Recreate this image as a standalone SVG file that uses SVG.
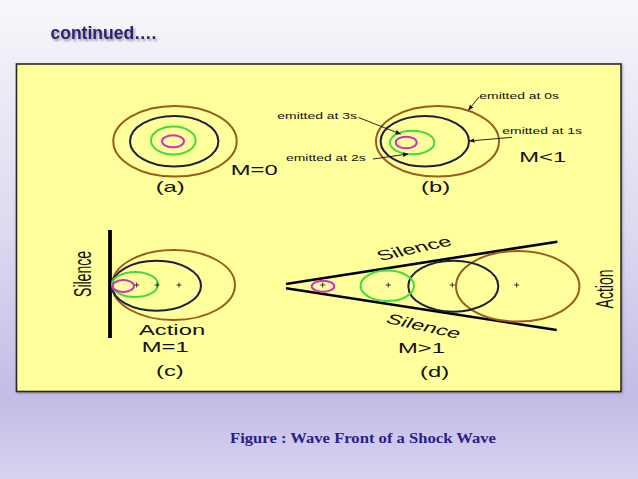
<svg xmlns="http://www.w3.org/2000/svg" width="638" height="479" viewBox="0 0 638 479">
<defs>
<linearGradient id="bg" x1="0" y1="0" x2="0" y2="1">
<stop offset="0" stop-color="#f8f8fb"/>
<stop offset="0.15" stop-color="#eeedf6"/>
<stop offset="0.5" stop-color="#dcd8f0"/>
<stop offset="0.83" stop-color="#c3bce6"/>
<stop offset="1" stop-color="#d8d4ef"/>
</linearGradient>
<filter id="sh" x="-10%" y="-30%" width="130%" height="180%">
<feDropShadow dx="1.5" dy="2" stdDeviation="1" flood-color="#555" flood-opacity="0.6"/>
</filter>
<filter id="boxsh" x="-5%" y="-5%" width="110%" height="110%">
<feDropShadow dx="1" dy="1" stdDeviation="1.2" flood-color="#444" flood-opacity="0.45"/>
</filter>
<marker id="arr" markerWidth="6" markerHeight="6" refX="5" refY="3" orient="auto" markerUnits="userSpaceOnUse">
<path d="M0,0.8 L5.5,3 L0,5.2 Z" fill="#111"/>
</marker>
<path id="plus" d="M-2.5,0 H2.5 M0,-2.5 V2.5" stroke="#222" stroke-width="0.9"/>
</defs>
<style>
.t{font-family:"Liberation Sans",Arial,sans-serif;fill:#111;}
.lbl{font-size:14px;}
.sm{font-size:8.2px;}
.w{fill:none;stroke-width:2;}
.br{stroke:#9b5a1e;}
.bk{stroke:#1c1f3c;}
.gr{stroke:#3fdc3a;}
.mg{stroke:#d22fc6;}
.lead{stroke:#111;stroke-width:0.9;fill:none;}
.thick{stroke:#000;fill:none;}
</style>
<rect x="0" y="0" width="638" height="479" fill="url(#bg)"/>
<text x="50.5" y="39" font-family="Liberation Sans,Arial,sans-serif" font-weight="bold" font-size="17.5" fill="#2b2377" filter="url(#sh)">continued….</text>
<rect x="16.5" y="64" width="604.5" height="327.5" fill="#ffff9c" stroke="#2a2a2a" stroke-width="1.6" filter="url(#boxsh)"/>

<g id="panel-a">
<ellipse cx="175" cy="141.3" rx="61.7" ry="35.3" class="w br"/>
<ellipse cx="174.2" cy="141.3" rx="44.2" ry="25.3" class="w bk"/>
<ellipse cx="173.3" cy="140.5" rx="22.3" ry="14" class="w gr"/>
<ellipse cx="173" cy="141.3" rx="11" ry="6" class="w mg"/>
<text class="t lbl" transform="translate(230.7,175) scale(1.7,1)">M=0</text>
<text class="t lbl" transform="translate(155.7,191.7) scale(1.7,1)">(a)</text>
</g>

<g id="panel-b">
<ellipse cx="437.5" cy="141.3" rx="61.5" ry="35.3" class="w br"/>
<ellipse cx="424.8" cy="141.3" rx="44.2" ry="25.3" class="w bk"/>
<ellipse cx="412.2" cy="142.5" rx="22.2" ry="11.8" class="w gr"/>
<ellipse cx="406.2" cy="142.5" rx="10.5" ry="5.8" class="w mg"/>
<text class="t sm" transform="translate(479.3,99.3) scale(1.7,1)">emitted at 0s</text>
<text class="t sm" transform="translate(277.3,119.3) scale(1.7,1)">emitted at 3s</text>
<text class="t sm" transform="translate(502.3,134) scale(1.7,1)">emitted at 1s</text>
<text class="t sm" transform="translate(286,160.7) scale(1.7,1)">emitted at 2s</text>
<text class="t lbl" transform="translate(519.3,161.7) scale(1.7,1)">M&lt;1</text>
<text class="t lbl" transform="translate(421,191.7) scale(1.7,1)">(b)</text>
</g>

<g id="panel-c">
<line x1="110" y1="230" x2="110" y2="338" class="thick" stroke-width="3.8"/>
<ellipse cx="173.5" cy="285" rx="61.5" ry="35" class="w br"/>
<ellipse cx="156.5" cy="285.7" rx="44.5" ry="25" class="w bk"/>
<ellipse cx="135" cy="284.5" rx="23" ry="12.5" class="w gr"/>
<ellipse cx="123.3" cy="286" rx="10.7" ry="6" class="w mg"/>
<use href="#plus" x="136.7" y="285"/>
<use href="#plus" x="157" y="285"/>
<use href="#plus" x="179" y="285"/>
<text class="t lbl" text-anchor="middle" transform="translate(90.7,274) scale(1.7,1) rotate(-90)">Silence</text>
<text class="t lbl" transform="translate(139,335) scale(1.7,1)">Action</text>
<text class="t lbl" transform="translate(141.7,351.7) scale(1.7,1)">M=1</text>
<text class="t lbl" transform="translate(156,376) scale(1.7,1)">(c)</text>
</g>

<g id="panel-d">
<line x1="286" y1="284" x2="557.3" y2="241.7" class="thick" stroke-width="2.6"/>
<line x1="286" y1="288.3" x2="556.7" y2="330" class="thick" stroke-width="2.6"/>
<ellipse cx="517.7" cy="286.3" rx="61.7" ry="35.3" class="w br"/>
<ellipse cx="453.3" cy="286.2" rx="45" ry="25.5" class="w bk"/>
<ellipse cx="387.3" cy="285.8" rx="26.7" ry="15.2" class="w gr"/>
<ellipse cx="323" cy="286.3" rx="11.3" ry="5.5" class="w mg"/>
<use href="#plus" x="322.7" y="285"/>
<use href="#plus" x="388.3" y="285"/>
<use href="#plus" x="452.3" y="285"/>
<use href="#plus" x="516.7" y="285"/>
<text class="t lbl" text-anchor="middle" transform="translate(417,253) scale(1.7,1) rotate(-20.7)">Silence</text>
<text class="t lbl" text-anchor="middle" transform="translate(421,330.7) scale(1.7,1) rotate(20.7)">Silence</text>
<text class="t lbl" text-anchor="middle" transform="translate(612.5,289) scale(1.7,1) rotate(-90)">Action</text>
<text class="t lbl" transform="translate(398,352.7) scale(1.7,1)">M&gt;1</text>
<text class="t lbl" transform="translate(420,376.7) scale(1.7,1)">(d)</text>
</g>

<g id="connectors">
<line x1="479" y1="97" x2="468.5" y2="110" class="lead" marker-end="url(#arr)"/>
<line x1="358.5" y1="117.5" x2="400.5" y2="134" class="lead" marker-end="url(#arr)"/>
<line x1="512" y1="137.3" x2="469.5" y2="141" class="lead" marker-end="url(#arr)"/>
<line x1="373" y1="159" x2="408" y2="154" class="lead" marker-end="url(#arr)"/>
</g>

<text x="230" y="443" font-family="Liberation Serif,'Times New Roman',serif" font-weight="bold" font-size="14.5" fill="#2b1d8a" textLength="266" lengthAdjust="spacingAndGlyphs">Figure : Wave Front of a Shock Wave</text>
</svg>
